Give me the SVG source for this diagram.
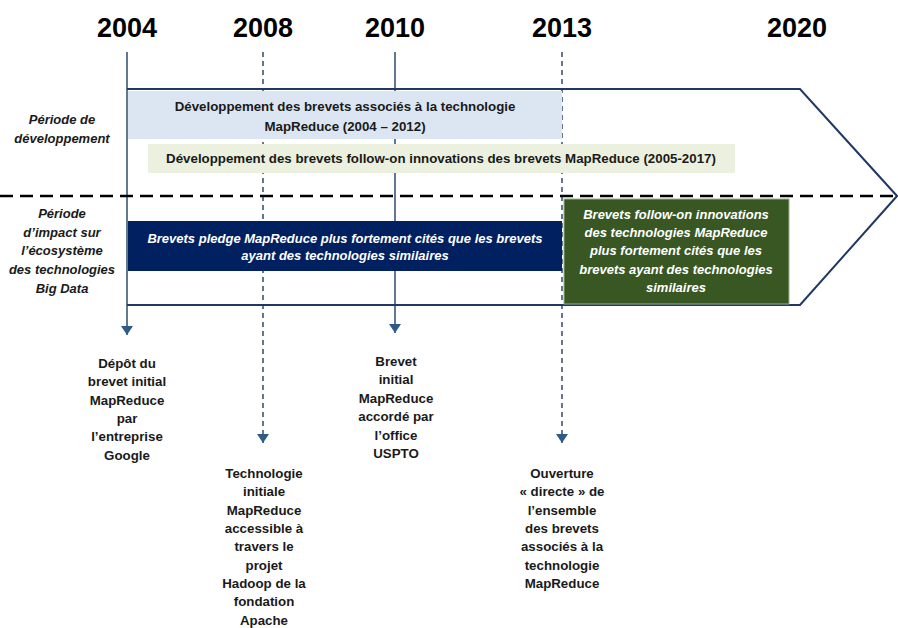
<svg xmlns="http://www.w3.org/2000/svg" width="898" height="628" viewBox="0 0 898 628">
<style>
.yr{font-family:"Liberation Sans",Arial,sans-serif;font-weight:bold;font-size:27px;fill:#000;text-anchor:middle}
.t{font-family:"Liberation Sans",Arial,sans-serif;font-weight:bold;font-size:13.3px;fill:#1a1a1a;text-anchor:middle}
.ti{font-family:"Liberation Sans",Arial,sans-serif;font-weight:bold;font-style:italic;font-size:13px;fill:#1a1a1a;text-anchor:middle}
.tw{font-family:"Liberation Sans",Arial,sans-serif;font-weight:bold;font-style:italic;font-size:13px;fill:#fff;text-anchor:middle}
.solid{stroke:#3b5577;stroke-width:1.6;fill:none}
.dash{stroke:#3b5577;stroke-width:1.6;fill:none;stroke-dasharray:5 4}
</style>
<defs>
<marker id="ah2" markerWidth="12" markerHeight="10" refX="6" refY="9" orient="0" markerUnits="userSpaceOnUse" viewBox="0 0 12 10">
<path d="M0,0 L12,0 L6,9 Z" fill="#2e5a88"/>
</marker>
</defs>
<rect width="898" height="628" fill="#fff"/>

<g id="years">
<text class="yr" x="127" y="37">2004</text>
<text class="yr" x="263" y="37">2008</text>
<text class="yr" x="395" y="37">2010</text>
<text class="yr" x="562" y="37">2013</text>
<text class="yr" x="797" y="37">2020</text>
</g>

<g id="connectors">
<line class="solid" x1="127" y1="52" x2="127" y2="335" marker-end="url(#ah2)"/>
<line class="dash" x1="263" y1="52" x2="263" y2="443" marker-end="url(#ah2)"/>
<line class="solid" x1="395" y1="52" x2="395" y2="333" marker-end="url(#ah2)"/>
<line class="dash" x1="562" y1="52" x2="562" y2="443" marker-end="url(#ah2)"/>
</g>

<g id="chevron">
<polyline points="127,89 800,89 897,196 800,305 127,305" fill="none" stroke="#1f3864" stroke-width="2"/>
</g>

<g id="separator">
<line x1="0" y1="196" x2="898" y2="196" stroke="#000" stroke-width="2.5" stroke-dasharray="13 7"/>
</g>

<g id="label-dev">
<text class="ti" x="62" y="124">Période de</text>
<text class="ti" x="62" y="143">développement</text>
</g>
<g id="label-impact">
<text class="ti" x="62" y="218">Période</text>
<text class="ti" x="62" y="237">d’impact sur</text>
<text class="ti" x="62" y="255">l’écosystème</text>
<text class="ti" x="62" y="274">des technologies</text>
<text class="ti" x="62" y="293">Big Data</text>
</g>

<g id="box-dev-mapreduce">
<rect x="128" y="91" width="434" height="48" fill="#dce6f2"/>
<text class="t" x="345" y="111">Développement des brevets associés à la technologie</text>
<text class="t" x="345" y="131">MapReduce (2004 – 2012)</text>
</g>

<g id="box-dev-followon">
<rect x="148" y="144" width="587" height="29" fill="#ebf1de"/>
<text class="t" x="441" y="163">Développement des brevets follow-on innovations des brevets MapReduce (2005-2017)</text>
</g>

<g id="box-pledge">
<rect x="128" y="221" width="434" height="50" fill="#002060"/>
<text class="tw" x="345" y="243">Brevets pledge MapReduce plus fortement cités que les brevets</text>
<text class="tw" x="345" y="260">ayant des technologies similaires</text>
</g>

<g id="box-followon-impact">
<rect x="564" y="199" width="225" height="105" fill="#385723" stroke="#9bb087" stroke-width="1"/>
<text class="tw" x="676" y="219">Brevets follow-on innovations</text>
<text class="tw" x="676" y="237">des technologies MapReduce</text>
<text class="tw" x="676" y="255">plus fortement cités que les</text>
<text class="tw" x="676" y="274">brevets ayant des technologies</text>
<text class="tw" x="676" y="292">similaires</text>
</g>

<g id="event-2004">
<text class="t" x="127" y="368">Dépôt du</text>
<text class="t" x="127" y="386">brevet initial</text>
<text class="t" x="127" y="405">MapReduce</text>
<text class="t" x="127" y="423">par</text>
<text class="t" x="127" y="441">l’entreprise</text>
<text class="t" x="127" y="460">Google</text>
</g>

<g id="event-2008">
<text class="t" x="264" y="478">Technologie</text>
<text class="t" x="264" y="496">initiale</text>
<text class="t" x="264" y="515">MapReduce</text>
<text class="t" x="264" y="533">accessible  à</text>
<text class="t" x="264" y="551">travers le</text>
<text class="t" x="264" y="570">projet</text>
<text class="t" x="264" y="588">Hadoop de la</text>
<text class="t" x="264" y="606">fondation</text>
<text class="t" x="264" y="625">Apache</text>
</g>

<g id="event-2010">
<text class="t" x="396" y="366">Brevet</text>
<text class="t" x="396" y="384">initial</text>
<text class="t" x="396" y="403">MapReduce</text>
<text class="t" x="396" y="421">accordé par</text>
<text class="t" x="396" y="440">l’office</text>
<text class="t" x="396" y="458">USPTO</text>
</g>

<g id="event-2013">
<text class="t" x="562" y="478">Ouverture</text>
<text class="t" x="562" y="496">« directe » de</text>
<text class="t" x="562" y="515">l’ensemble</text>
<text class="t" x="562" y="533">des brevets</text>
<text class="t" x="562" y="551">associés à la</text>
<text class="t" x="562" y="570">technologie</text>
<text class="t" x="562" y="588">MapReduce</text>
</g>
</svg>
